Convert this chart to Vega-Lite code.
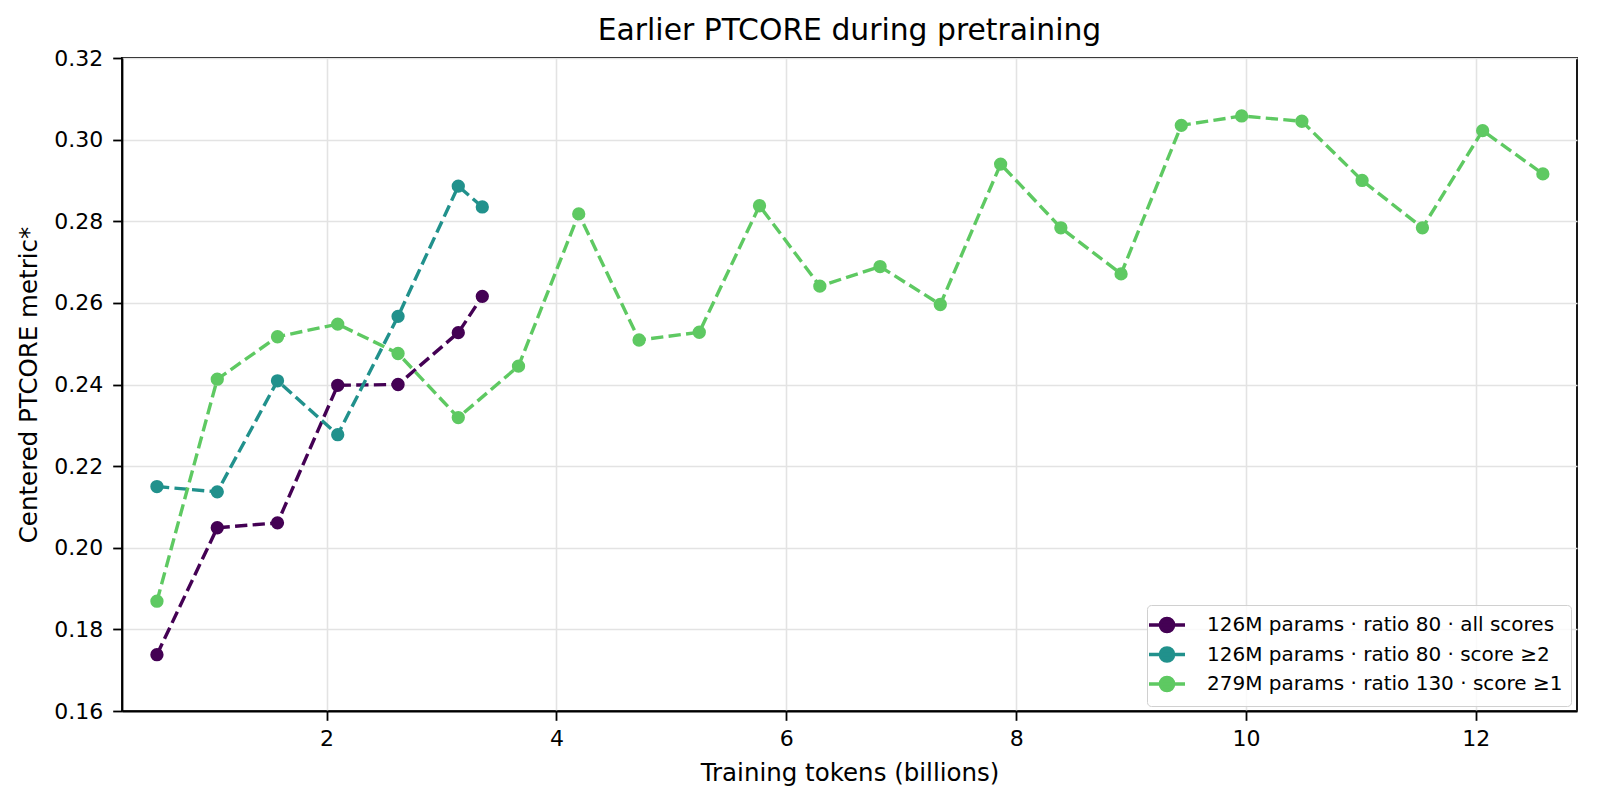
{
  "$schema": "https://vega.github.io/schema/vega-lite/v6.json",
  "autosize": {"type": "none"},
  "width": 1455,
  "height": 653,
  "padding": {"left": 122, "top": 58, "right": 20, "bottom": 93},
  "background": "white",
  "title": {
    "text": "Earlier PTCORE during pretraining",
    "fontSize": 29.8,
    "fontWeight": "normal",
    "font": "DejaVu Sans",
    "color": "black",
    "anchor": "middle",
    "offset": 1
  },
  "data": {
    "values": [
      {"run": "126M params · ratio 80 · all scores", "tokens": 0.524, "score": 0.1738},
      {"run": "126M params · ratio 80 · all scores", "tokens": 1.049, "score": 0.2049},
      {"run": "126M params · ratio 80 · all scores", "tokens": 1.573, "score": 0.2061},
      {"run": "126M params · ratio 80 · all scores", "tokens": 2.097, "score": 0.2398},
      {"run": "126M params · ratio 80 · all scores", "tokens": 2.622, "score": 0.2400},
      {"run": "126M params · ratio 80 · all scores", "tokens": 3.146, "score": 0.2527},
      {"run": "126M params · ratio 80 · all scores", "tokens": 3.355, "score": 0.2616},
      {"run": "126M params · ratio 80 · score ≥2", "tokens": 0.524, "score": 0.2150},
      {"run": "126M params · ratio 80 · score ≥2", "tokens": 1.049, "score": 0.2137},
      {"run": "126M params · ratio 80 · score ≥2", "tokens": 1.573, "score": 0.2409},
      {"run": "126M params · ratio 80 · score ≥2", "tokens": 2.097, "score": 0.2277},
      {"run": "126M params · ratio 80 · score ≥2", "tokens": 2.622, "score": 0.2567},
      {"run": "126M params · ratio 80 · score ≥2", "tokens": 3.146, "score": 0.2886},
      {"run": "126M params · ratio 80 · score ≥2", "tokens": 3.355, "score": 0.2835},
      {"run": "279M params · ratio 130 · score ≥1", "tokens": 0.524, "score": 0.1869},
      {"run": "279M params · ratio 130 · score ≥1", "tokens": 1.049, "score": 0.2413},
      {"run": "279M params · ratio 130 · score ≥1", "tokens": 1.573, "score": 0.2517},
      {"run": "279M params · ratio 130 · score ≥1", "tokens": 2.097, "score": 0.2548},
      {"run": "279M params · ratio 130 · score ≥1", "tokens": 2.622, "score": 0.2476},
      {"run": "279M params · ratio 130 · score ≥1", "tokens": 3.146, "score": 0.2319},
      {"run": "279M params · ratio 130 · score ≥1", "tokens": 3.670, "score": 0.2445},
      {"run": "279M params · ratio 130 · score ≥1", "tokens": 4.194, "score": 0.2818},
      {"run": "279M params · ratio 130 · score ≥1", "tokens": 4.719, "score": 0.2509},
      {"run": "279M params · ratio 130 · score ≥1", "tokens": 5.243, "score": 0.2528},
      {"run": "279M params · ratio 130 · score ≥1", "tokens": 5.767, "score": 0.2838},
      {"run": "279M params · ratio 130 · score ≥1", "tokens": 6.292, "score": 0.2641},
      {"run": "279M params · ratio 130 · score ≥1", "tokens": 6.816, "score": 0.2689},
      {"run": "279M params · ratio 130 · score ≥1", "tokens": 7.340, "score": 0.2596},
      {"run": "279M params · ratio 130 · score ≥1", "tokens": 7.865, "score": 0.2940},
      {"run": "279M params · ratio 130 · score ≥1", "tokens": 8.389, "score": 0.2784},
      {"run": "279M params · ratio 130 · score ≥1", "tokens": 8.913, "score": 0.2671},
      {"run": "279M params · ratio 130 · score ≥1", "tokens": 9.437, "score": 0.3035},
      {"run": "279M params · ratio 130 · score ≥1", "tokens": 9.962, "score": 0.3058},
      {"run": "279M params · ratio 130 · score ≥1", "tokens": 10.486, "score": 0.3045},
      {"run": "279M params · ratio 130 · score ≥1", "tokens": 11.010, "score": 0.2900},
      {"run": "279M params · ratio 130 · score ≥1", "tokens": 11.535, "score": 0.2784},
      {"run": "279M params · ratio 130 · score ≥1", "tokens": 12.059, "score": 0.3022},
      {"run": "279M params · ratio 130 · score ≥1", "tokens": 12.583, "score": 0.2916}
    ]
  },
  "encoding": {
    "x": {
      "field": "tokens",
      "type": "quantitative",
      "title": "Training tokens (billions)",
      "scale": {"domain": [0.22, 12.88], "nice": false, "zero": false},
      "axis": {"values": [2, 4, 6, 8, 10, 12], "format": "d", "labelPadding": 8, "titlePadding": 12}
    },
    "y": {
      "field": "score",
      "type": "quantitative",
      "title": "Centered PTCORE metric*",
      "scale": {"domain": [0.16, 0.32], "nice": false, "zero": false},
      "axis": {"values": [0.16, 0.18, 0.2, 0.22, 0.24, 0.26, 0.28, 0.3, 0.32], "format": ".2f", "labelPadding": 10, "titlePadding": 12}
    },
    "color": {
      "field": "run",
      "type": "nominal",
      "title": null,
      "scale": {
        "domain": ["126M params · ratio 80 · all scores", "126M params · ratio 80 · score ≥2", "279M params · ratio 130 · score ≥1"],
        "range": ["#440154", "#21918c", "#5ec962"]
      },
      "legend": {
        "orient": "none",
        "legendX": 1025,
        "legendY": 547,
        "symbolType": "M-1.8,0L1.8,0M0.667,0A0.667,0.667,0,1,1,-0.667,0A0.667,0.667,0,1,1,0.667,0Z",
        "symbolSize": 400,
        "symbolStrokeWidth": 3.3,
        "labelOffset": 28,
        "labelFontSize": 20,
        "labelFont": "DejaVu Sans",
        "labelColor": "black",
        "labelLimit": 500,
        "rowPadding": 1.5,
        "padding": 8,
        "strokeColor": "#d0d0d0",
        "fillColor": "rgba(255,255,255,0.8)",
        "cornerRadius": 4,
        "encode": {
          "symbols": {
            "update": {
              "fill": {"scale": "color", "field": "value"},
              "stroke": {"scale": "color", "field": "value"},
              "fillOpacity": {"value": 1},
              "strokeDash": {"value": []}
            }
          }
        }
      }
    }
  },
  "layer": [
    {
      "mark": {"type": "line", "strokeWidth": 3.4, "strokeDash": [12.3, 5.3]}
    },
    {
      "mark": {"type": "point", "filled": true, "shape": "circle", "size": 177, "opacity": 1}
    }
  ],
  "config": {
    "font": "DejaVu Sans",
    "view": {"stroke": "black", "strokeWidth": 1.8},
    "axis": {
      "labelFont": "DejaVu Sans",
      "titleFont": "DejaVu Sans",
      "labelFontSize": 22,
      "titleFontSize": 24.5,
      "titleFontWeight": "normal",
      "labelColor": "black",
      "titleColor": "black",
      "domainColor": "black",
      "domainWidth": 1.8,
      "tickColor": "black",
      "tickWidth": 1.8,
      "tickSize": 9.3,
      "gridColor": "#e3e3e3",
      "gridWidth": 1.6
    }
  }
}
